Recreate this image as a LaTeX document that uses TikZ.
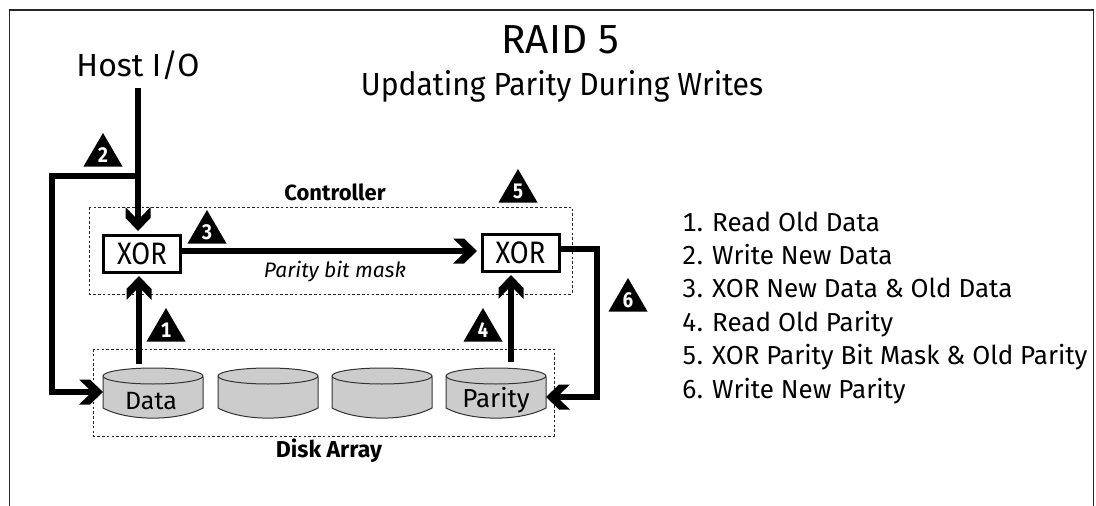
\documentclass[tikz,border=0pt]{standalone}
\usepackage{fontspec}
\setmainfont{Fira Sans}[Numbers=Monospaced]
\newfontfamily\narrowfont{Fira Sans}[FakeStretch=0.88,Numbers=Monospaced]
\newfontfamily\subfont{Fira Sans}[FakeStretch=0.94,Numbers=Monospaced]
\usetikzlibrary{arrows.meta}
\makeatletter
\pgfdeclarearrow{
  name=Chev,
  setup code={
    \pgfarrowssettipend{0pt}
    \pgfarrowssetlineend{-12pt}
    \pgfarrowssetvisualbackend{-24pt}
    \pgfarrowssetbackend{-24pt}
    \pgfarrowshullpoint{0pt}{0pt}
    \pgfarrowsupperhullpoint{-24pt}{12.5pt}
  },
  drawing code={
    \pgfpathmoveto{\pgfqpoint{0pt}{0pt}}
    \pgfpathlineto{\pgfqpoint{-13pt}{12.5pt}}
    \pgfpathlineto{\pgfqpoint{-24pt}{12.5pt}}
    \pgfpathlineto{\pgfqpoint{-14pt}{3pt}}
    \pgfpathlineto{\pgfqpoint{-14pt}{-3pt}}
    \pgfpathlineto{\pgfqpoint{-24pt}{-12.5pt}}
    \pgfpathlineto{\pgfqpoint{-13pt}{-12.5pt}}
    \pgfpathclose
    \pgfusepathqfill
  },
  defaults={}
}
\makeatother
\tikzset{
  frameline/.style={draw=black!85,line width=1.6pt},
  dashbox/.style={draw=black!85,line width=0.8pt,dash pattern=on 2.6pt off 2.2pt},
  thick arrow/.style={draw=black,line width=6pt,-{Chev}},
  xorbox/.style={draw=black,line width=3pt,fill=white,minimum width=77pt,minimum height=37pt,inner sep=0pt,font=\narrowfont\fontsize{31}{32}\selectfont},
  disk/.style={draw=black!80,line width=1pt,fill=black!20},
  badge/.style={fill=black,draw=none},
  badgetext/.style={text=white,font=\narrowfont\bfseries\fontsize{21}{22}\selectfont,inner sep=0pt},
  label/.style={anchor=base,inner sep=0pt},
  listitem/.style={anchor=base west,inner sep=0pt,font=\fontsize{26}{27}\selectfont},
}
\begin{document}
\begin{tikzpicture}[x=1pt,y=-1pt]
\useasboundingbox (0,0) rectangle (1096,506);
\draw[frameline] (9.5,506) -- (9.5,10) -- (1093.5,10) -- (1093.5,506);
\node[label,font=\fontsize{40.5}{42}\selectfont] (title) at (561,53) {RAID 5};
\node[label,font=\subfont\fontsize{32}{34}\selectfont] (sub) at (562,95) {Updating Parity During Writes};
\node[label,font=\fontsize{32}{34}\selectfont] (host) at (138,76) {Host I/O};
\draw[dashbox] (89,207) rectangle (572,294);
\draw[dashbox] (93,349) rectangle (554,436);
\node[label,font=\bfseries\fontsize{22}{23}\selectfont] (ctl) at (335,200) {Controller};
\node[label,font=\bfseries\fontsize{23}{24}\selectfont] (arr) at (329,457) {Disk Array};
\foreach \n/\x in {d1/103,d2/218,d3/332,d4/446}{
  \draw[disk] (\x,377) -- (\x,408) .. controls (\x+25,421.5) and (\x+75,421.5) .. (\x+100,408) -- (\x+100,377) -- cycle;
  \draw[disk] (\x+50,376) ellipse [x radius=50,y radius=8];
  \coordinate (\n) at (\x+50,392);
}
\node[label,font=\fontsize{25}{26}\selectfont] (dlabel) at (151,409) {Data};
\node[label,font=\fontsize{26}{27}\selectfont] (plabel) at (496,407) {Parity};
\node[xorbox] (x1) at (142,253.5) {XOR};
\node[xorbox] (x2) at (520.5,252.5) {XOR};
\node[label,font=\itshape\fontsize{21}{22}\selectfont] (pbm) at (335,277) {Parity bit mask};
\coordinate (hs) at (138,88);
\coordinate (ht) at (138,231);
\coordinate (jn) at (138,175.5);
\coordinate (lc) at (52,175.5);
\coordinate (lb) at (52,392);
\coordinate (dt) at (103,392);
\draw[thick arrow] (hs) -- (ht);
\draw[thick arrow,line join=miter] (jn) -- (lc) -- (lb) -- (dt);
\coordinate (a1s) at (139,364); \coordinate (a1t) at (139,276);
\draw[thick arrow] (a1s) -- (a1t);
\coordinate (a4s) at (511,362); \coordinate (a4t) at (511,275);
\draw[thick arrow] (a4s) -- (a4t);
\coordinate (a3s) at (181,251); \coordinate (a3t) at (477,251);
\draw[thick arrow] (a3s) -- (a3t);
\coordinate (a6a) at (597,249); \coordinate (a6b) at (597,397); \coordinate (a6t) at (546,397);
\draw[thick arrow,line join=miter] (x2.east |- a6a) -- (a6a) -- (a6b) -- (a6t);
\foreach \n/\x/\y in {1/166/308,2/103/133,3/207/210,4/483/308,5/518/169,6/628/278}{
  \fill[badge] (\x,\y) -- (\x+19.5,\y+33.5) -- (\x-19.5,\y+33.5) -- cycle;
  \node[badgetext] (b\n) at (\x,\y+22.5) {\n};
}
\node[listitem] (l1) at (682,231) {1. Read Old Data};
\node[listitem] (l2) at (682,264.4) {2. Write New Data};
\node[listitem] (l3) at (682,297.8) {3. XOR New Data \& Old Data};
\node[listitem] (l4) at (682,331.2) {4. Read Old Parity};
\node[listitem] (l5) at (682,364.6) {5. XOR Parity Bit Mask \& Old Parity};
\node[listitem] (l6) at (682,398) {6. Write New Parity};
\end{tikzpicture}
\end{document}
